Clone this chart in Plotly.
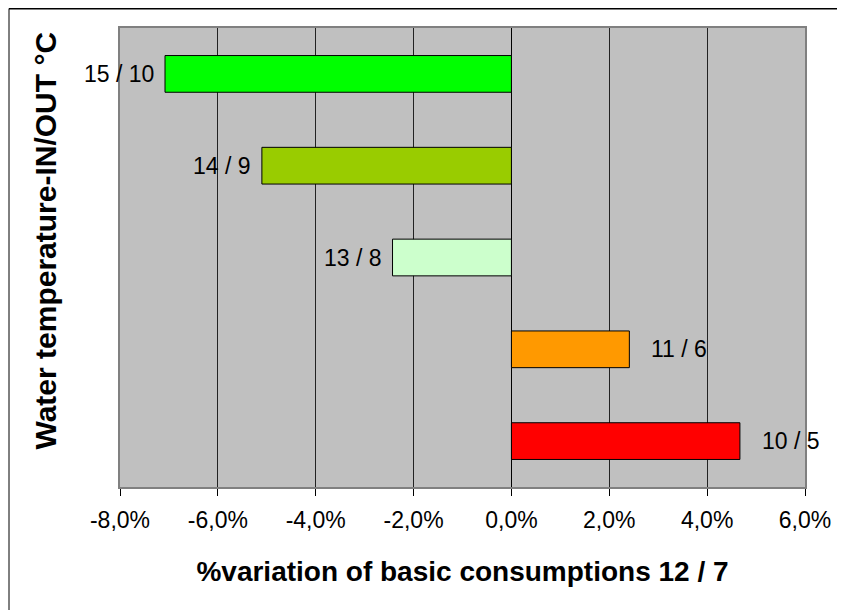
import plotly.graph_objects as go

# data
labels = ["15 / 10", "14 / 9", "13 / 8", "11 / 6", "10 / 5"]
variation = [-7.08, -5.1, -2.43, 2.41, 4.67]  # % variation
colors = ["#00FF00", "#99CC00", "#CCFFCC", "#FF9900", "#FF0000"]
tick_values = [-8, -6, -4, -2, 0, 2, 4, 6]
tick_text = [f"{v:.1f}%".replace(".", ",") for v in tick_values]

# page body adds an 8px margin, so the figure is laid out relative to that
W, H = 845, 610
ML, MT = 112, 20
PW, PH = 685, 459
MR = W - ML - PW
MB = H - MT - PH
FONT = "Liberation Sans, Arial, sans-serif"

fig = go.Figure()
fig.add_trace(go.Bar(
    x=variation,
    y=labels,
    orientation="h",
    marker=dict(color=colors, line=dict(color="black", width=1)),
    width=0.4,
    hoverinfo="x+y",
))

# category labels next to bar ends
for lab, v in zip(labels, variation):
    fig.add_annotation(
        x=v, y=lab, text=lab, showarrow=False,
        xanchor="right" if v < 0 else "left",
        xshift=-9 if v < 0 else 20,
        font=dict(family=FONT, size=23, color="black"),
    )

# y axis title placed as annotation (sits a bit above plot centre)
fig.add_annotation(
    text="<b>Water temperature-IN/OUT °C</b>",
    xref="paper", yref="paper", x=-(ML - 38) / PW, y=0.537,
    xanchor="center", yanchor="middle", textangle=-90, showarrow=False,
    font=dict(family=FONT, size=30, color="black"),
)

# outer chart frame (top and left edges visible)
x0 = -(ML - 1) / PW
y0 = 1 + (MT - 0.5) / PH
fig.add_shape(type="line", xref="paper", yref="paper",
              x0=x0, x1=(W - ML) / PW, y0=y0, y1=y0,
              line=dict(color="black", width=2))
fig.add_shape(type="line", xref="paper", yref="paper",
              x0=x0, x1=x0, y0=y0, y1=-MB / PH,
              line=dict(color="black", width=1))

fig.update_layout(
    width=W, height=H,
    margin=dict(l=ML, r=MR, t=MT, b=MB),
    paper_bgcolor="white",
    plot_bgcolor="#C0C0C0",
    showlegend=False,
    font=dict(family=FONT, size=23, color="black"),
    xaxis=dict(
        range=[-8, 6],
        tickvals=tick_values,
        ticktext=tick_text,
        showgrid=True, gridcolor="#222222", gridwidth=1,
        zeroline=True, zerolinecolor="black", zerolinewidth=1,
        ticks="outside", ticklen=7, tickcolor="black",
        ticklabelstandoff=4,
        showline=True, linecolor="#808080", linewidth=2, mirror=True,
        tickfont=dict(size=23),
        title=dict(text="<b>%variation of basic consumptions 12 / 7</b>",
                   font=dict(size=28), standoff=30),
    ),
    yaxis=dict(
        categoryorder="array",
        categoryarray=labels[::-1],
        showticklabels=False,
        showgrid=False,
        showline=True, linecolor="#808080", linewidth=2, mirror=True,
    ),
)

fig.write_html("out.html")
